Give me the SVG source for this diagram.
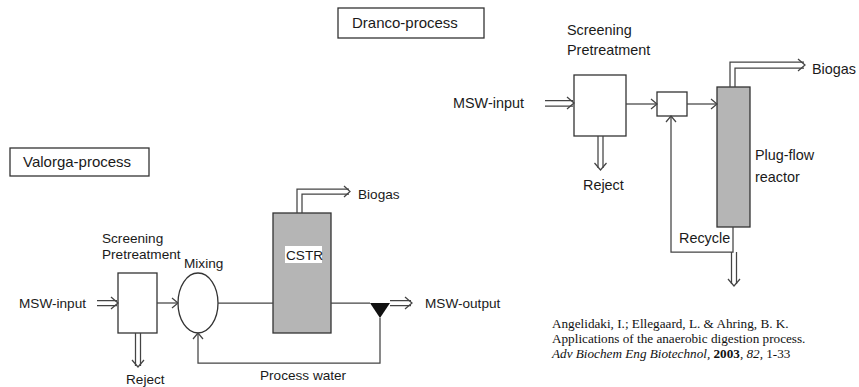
<svg xmlns="http://www.w3.org/2000/svg" width="859" height="387" viewBox="0 0 859 387">
<style>
  .t{font-family:"Liberation Sans",Arial,sans-serif;font-size:13.6px;fill:#1a1a1a}
  .td{font-family:"Liberation Sans",Arial,sans-serif;font-size:14.4px;fill:#1a1a1a}
  .title{font-family:"Liberation Sans",Arial,sans-serif;font-size:15px;fill:#1a1a1a}
  .cite{font-family:"Liberation Serif","Times New Roman",serif;font-size:13.2px;fill:#111}
  .box{fill:#fff;stroke:#333;stroke-width:1.3}
  .reactor{fill:#b5b5b5;stroke:#333;stroke-width:1.3}
  .ln{fill:none;stroke:#444;stroke-width:1.25}
  .chev{fill:none;stroke:#444;stroke-width:1.25;stroke-linejoin:miter}
</style>
<rect width="859" height="387" fill="#fff"/>

<!-- Titles -->
<g id="valorga-title">
  <rect class="box" x="10" y="148" width="139" height="28"/>
  <text class="title" x="23" y="167">Valorga-process</text>
</g>
<g id="dranco-title">
  <rect class="box" x="338" y="8" width="146" height="30"/>
  <text class="title" x="352" y="28">Dranco-process</text>
</g>

<!-- Valorga nodes -->
<g id="v-screening">
  <rect class="box" x="118" y="273" width="39" height="60"/>
  <text class="t" x="102" y="243">Screening</text>
  <text class="t" x="102" y="259">Pretreatment</text>
</g>
<g id="v-mixing">
  <ellipse class="box" cx="198" cy="303" rx="20" ry="30"/>
  <text class="t" x="184" y="268">Mixing</text>
</g>
<g id="v-cstr">
  <rect class="reactor" x="273" y="213" width="58" height="120"/>
  <rect x="285" y="246" width="37" height="17" fill="#fff"/>
  <text class="t" x="286" y="260">CSTR</text>
</g>
<g id="v-splitter">
  <polygon points="370,303 390,303 380,318" fill="#111"/>
</g>
<g id="v-labels">
  <text class="t" x="19" y="308">MSW-input</text>
  <text class="t" x="126" y="384">Reject</text>
  <text class="t" x="358" y="199">Biogas</text>
  <text class="t" x="425" y="308">MSW-output</text>
  <text class="t" x="260" y="380">Process water</text>
</g>

<!-- Dranco nodes -->
<g id="d-screening">
  <rect class="box" x="574" y="75" width="52" height="61"/>
  <text class="td" x="567" y="35">Screening</text>
  <text class="td" x="567" y="55">Pretreatment</text>
</g>
<g id="d-mixer">
  <rect class="box" x="657" y="92" width="30" height="24"/>
</g>
<g id="d-plugflow">
  <rect class="reactor" x="717" y="87" width="33" height="140"/>
  <text class="td" x="755" y="160">Plug-flow</text>
  <text class="td" x="755" y="182">reactor</text>
</g>
<g id="d-labels">
  <text class="td" x="453" y="108">MSW-input</text>
  <text class="td" x="583" y="190">Reject</text>
  <text class="td" x="812" y="74">Biogas</text>
  <text class="td" x="679" y="243">Recycle</text>
</g>

<!-- Connectors -->
<g id="connectors">
  <path class="ln" d="M97 300.5H117M97 305.5H117"/>
  <polyline class="chev" points="111,297 118,303 111,309"/>
  <path class="ln" d="M135.5 333V366M140.5 333V366"/>
  <polyline class="chev" points="132,360 138,367 144,360"/>
  <path class="ln" d="M157 303H178"/>
  <polyline class="chev" points="172,298 178,303 172,308"/>
  <path class="ln" d="M218 303H273"/>
  <path class="ln" d="M331 303H370"/>
  <path class="ln" d="M390 300.5H411M390 305.5H411"/>
  <polyline class="chev" points="405,297 412,303 405,309"/>
  <path class="ln" d="M380 318V363H198V333"/>
  <polyline class="chev" points="193,339 198,333 203,339"/>
  <path class="ln" d="M297 213V189H349M302 213V194H349"/>
  <polyline class="chev" points="344,186 350,191.5 344,197"/>

  <path class="ln" d="M545 100.5H573M545 106H573"/>
  <polyline class="chev" points="567,97 574,103 567,109"/>
  <path class="ln" d="M598 136V168M603 136V168"/>
  <polyline class="chev" points="594.5,163 600.5,170 606.5,163"/>
  <path class="ln" d="M626 104H657"/>
  <polyline class="chev" points="651,99 657,104 651,109"/>
  <path class="ln" d="M687 104H717"/>
  <polyline class="chev" points="711,99 717,104 711,109"/>
  <path class="ln" d="M730 87V62H804M735 87V68H804"/>
  <polyline class="chev" points="798,59 805,65 798,71"/>
  <path class="ln" d="M733 227V252H671V116"/>
  <polyline class="chev" points="666,122 671,116 676,122"/>
  <path class="ln" d="M731.5 252V284M736.5 252V284"/>
  <polyline class="chev" points="728,279 734,286 740,279"/>
</g>

<!-- Citation -->
<g id="citation">
  <text class="cite" x="552" y="328">Angelidaki, I.; Ellegaard, L. &amp; Ahring, B. K.</text>
  <text class="cite" x="552" y="343">Applications of the anaerobic digestion process.</text>
  <text class="cite" x="552" y="358"><tspan font-style="italic">Adv Biochem Eng Biotechnol,</tspan> <tspan font-weight="bold">2003</tspan>, <tspan font-style="italic">82</tspan>, 1-33</text>
</g>
</svg>
